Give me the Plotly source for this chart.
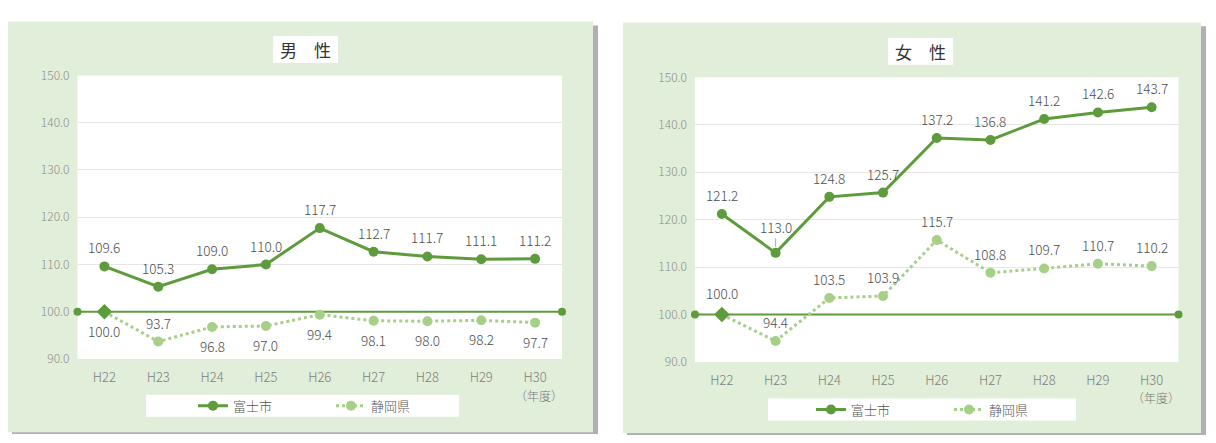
import plotly.graph_objects as go

# ---- data -------------------------------------------------------------
years = ["H22", "H23", "H24", "H25", "H26", "H27", "H28", "H29", "H30"]
base_value = 100.0

male_fuji = [109.6, 105.3, 109.0, 110.0, 117.7, 112.7, 111.7, 111.1, 111.2]
male_pref = [100.0, 93.7, 96.8, 97.0, 99.4, 98.1, 98.0, 98.2, 97.7]
female_fuji = [121.2, 113.0, 124.8, 125.7, 137.2, 136.8, 141.2, 142.6, 143.7]
female_pref = [100.0, 94.4, 103.5, 103.9, 115.7, 108.8, 109.7, 110.7, 110.2]

panel_titles = ["男\u3000性", "女\u3000性"]
series_names = ["富士市", "静岡県"]
unit_label = "（年度）"

y_ticks = [90, 100, 110, 120, 130, 140, 150]

# label side: +1 above the point, -1 below
male_pref_side = [-1, 1, -1, -1, -1, -1, -1, -1, -1]

# ---- styling ----------------------------------------------------------
W, H = 1216, 443
DARK = "#5e9b3c"
LIGHT = "#a6cf88"
PANEL = "#e1eed9"
SHADOW = "#b0b0b0"
GRID = "#e6e6e6"
FONT = "Noto Sans CJK JP"
LIGHT_W = 300


def fx(px):
    return px / W


def fy(py):
    return 1 - py / H


def font(size, color, weight=LIGHT_W):
    return dict(family=FONT, size=size, color=color, weight=weight)


idx = list(range(len(years)))
x_range = [-0.5, len(years) - 0.5]

fig = go.Figure()

panels = [
    dict(
        fuji=male_fuji, pref=male_pref, pref_side=male_pref_side,
        xa="x", ya="y", legend="legend",
        box=(8, 12, 593, 439), plot=(77.5, 68, 562, 363),
        title_box=(273, 27, 338, 55), title_c=(305.5, 41.5),
        legend_box=(146, 400, 459, 423), legend_x=193, legend_y=411.5,
        unit_y=398,
    ),
    dict(
        fuji=female_fuji, pref=female_pref, pref_side=[1] * len(years),
        xa="x2", ya="y2", legend="legend2",
        box=(623, 13, 1201, 440), plot=(695, 70, 1178.5, 366),
        title_box=(888, 29, 953, 57), title_c=(920.5, 43.5),
        legend_box=(768, 404, 1076, 427), legend_x=811, legend_y=415.5,
        unit_y=400,
    ),
]

shapes = []
annotations = []

for p in panels:
    x0, y0, x1, y1 = p["box"]
    # drop shadow of the panel
    shapes.append(dict(type="rect", xref="paper", yref="paper", layer="below",
                       x0=fx(x0 + 4), x1=fx(x1 + 5), y0=fy(y1 + 2), y1=fy(y0 + 4),
                       fillcolor=SHADOW, line=dict(width=0)))
    shapes.append(dict(type="rect", xref="paper", yref="paper", layer="below",
                       x0=fx(x0), x1=fx(x1), y0=fy(y1), y1=fy(y0),
                       fillcolor=PANEL, line=dict(width=0)))
    # white plotting area
    shapes.append(dict(type="rect", xref=p["xa"] + " domain", yref=p["ya"] + " domain",
                       layer="below", x0=0, x1=1, y0=0, y1=1,
                       fillcolor="white", line=dict(width=0)))
    # title box and legend box
    tx0, ty0, tx1, ty1 = p["title_box"]
    shapes.append(dict(type="rect", xref="paper", yref="paper", layer="below",
                       x0=fx(tx0), x1=fx(tx1), y0=fy(ty1), y1=fy(ty0),
                       fillcolor="white", line=dict(width=0)))
    lx0, ly0, lx1, ly1 = p["legend_box"]
    shapes.append(dict(type="rect", xref="paper", yref="paper", layer="below",
                       x0=fx(lx0), x1=fx(lx1), y0=fy(ly1), y1=fy(ly0),
                       fillcolor="white", line=dict(width=0)))

for k, p in enumerate(panels):
    xa, ya, lg = p["xa"], p["ya"], p["legend"]

    # index baseline across the whole plotting area
    fig.add_trace(go.Scatter(
        x=x_range, y=[base_value, base_value], xaxis=xa, yaxis=ya,
        mode="lines+markers", line=dict(color=DARK, width=2),
        marker=dict(size=8, color=DARK), cliponaxis=False,
        showlegend=False, hoverinfo="skip"))

    fig.add_trace(go.Scatter(
        x=idx, y=p["fuji"], xaxis=xa, yaxis=ya, name=series_names[0],
        legend=lg, mode="lines+markers",
        line=dict(color=DARK, width=3), marker=dict(size=10, color=DARK)))

    fig.add_trace(go.Scatter(
        x=idx, y=p["pref"], xaxis=xa, yaxis=ya, name=series_names[1],
        legend=lg, mode="lines+markers",
        line=dict(color=LIGHT, width=3, dash="dot"),
        marker=dict(size=10, color=LIGHT)))

    # starting point of the prefecture series sits on the baseline
    fig.add_trace(go.Scatter(
        x=idx[:1], y=p["pref"][:1], xaxis=xa, yaxis=ya, mode="markers",
        marker=dict(size=12, symbol="diamond", color=DARK),
        showlegend=False, hoverinfo="skip"))

    # value labels
    for i, v in enumerate(p["fuji"]):
        ann = dict(x=i, y=v, xref=xa, yref=ya, text=f"{v:.1f}", showarrow=False,
                   yshift=19, font=font(13.5, "#4d4d4d"))
        if k == 1 and i == 1:
            ann.update(showarrow=True, ax=0, ay=-26, arrowhead=0, arrowwidth=0.8,
                       arrowcolor="#999999", standoff=6, yshift=0)
        annotations.append(ann)
    for i, v in enumerate(p["pref"]):
        annotations.append(dict(
            x=i, y=v, xref=xa, yref=ya, text=f"{v:.1f}", showarrow=False,
            yshift=19 * p["pref_side"][i] + (3 if (k == 1 and i == 0) else 0),
            font=font(13.5, "#4d4d4d")))

    # panel title
    annotations.append(dict(
        x=fx(p["title_c"][0]), y=fy(p["title_c"][1]), xref="paper", yref="paper",
        text=panel_titles[k], showarrow=False, xanchor="center", yanchor="middle",
        font=font(17, "#333333", 400)))
    # unit label under the last category
    annotations.append(dict(
        x=idx[-1], y=fy(p["unit_y"] - 7), xref=xa, yref="paper", xshift=4,
        text=unit_label, showarrow=False, xanchor="center", yanchor="top",
        borderpad=0, font=font(12, "#777777")))

axis_common_x = dict(range=x_range, tickmode="array", tickvals=idx, ticktext=years,
                     showgrid=False, zeroline=False, showline=False, ticks="",
                     ticklabelstandoff=9, tickfont=font(13, "#808080"),
                     fixedrange=True)
axis_common_y = dict(range=[y_ticks[0], y_ticks[-1]], tickmode="array", tickvals=y_ticks,
                     tickformat=".1f", showgrid=True, gridcolor=GRID, gridwidth=1,
                     zeroline=False, showline=False, ticks="", ticklabelstandoff=7,
                     tickfont=font(12, "#8c8c8c"), fixedrange=True)

legend_common = dict(orientation="h", xanchor="left", yanchor="middle",
                     bgcolor="rgba(0,0,0,0)", entrywidth=93,
                     font=font(13, "#555555"))

l, r = panels
fig.update_layout(
    width=W, height=H, margin=dict(l=0, r=0, t=0, b=0),
    paper_bgcolor="white", plot_bgcolor="white",
    font=dict(family=FONT, color="#555555"),
    xaxis=dict(domain=[fx(l["plot"][0]), fx(l["plot"][2])], anchor="y", **axis_common_x),
    yaxis=dict(domain=[fy(l["plot"][3]), fy(l["plot"][1])], anchor="x", **axis_common_y),
    xaxis2=dict(domain=[fx(r["plot"][0]), fx(r["plot"][2])], anchor="y2", **axis_common_x),
    yaxis2=dict(domain=[fy(r["plot"][3]), fy(r["plot"][1])], anchor="x2", **axis_common_y),
    legend=dict(x=fx(l["legend_x"]), y=fy(l["legend_y"]), **legend_common),
    legend2=dict(x=fx(r["legend_x"]), y=fy(r["legend_y"]), **legend_common),
    shapes=shapes,
    annotations=annotations,
    showlegend=True,
)

fig.write_html("out.html")
